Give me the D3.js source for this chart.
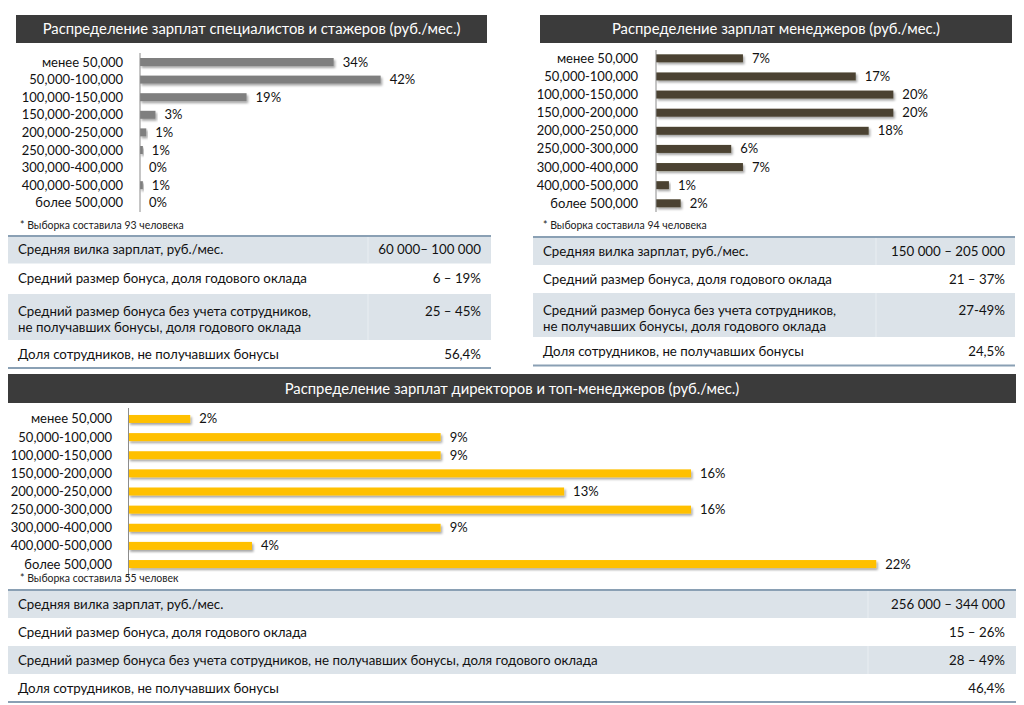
<!DOCTYPE html>
<html>
<head>
<meta charset="utf-8">
<script src="https://cdn.jsdelivr.net/npm/d3@7"></script>
<style>
  body { margin: 0; background: #fff; }
  svg { display: block; font-family: Lato, "Open Sans", sans-serif; }
</style>
</head>
<body>
<script>
      var w = 1024;
      var h = 705;

      var categories = ["менее 50,000", "50,000-100,000", "100,000-150,000", "150,000-200,000",
                        "200,000-250,000", "250,000-300,000", "300,000-400,000", "400,000-500,000", "более 500,000"];

      // доли, %
      var specValues = [33.8, 42.0, 18.6, 2.7, 1.1, 0.5, 0, 0.5, 0];
      var mgrValues = [7.4, 17.0, 20.2, 20.2, 18.1, 6.4, 7.4, 1.1, 2.1];
      var dirValues = [1.8, 9.1, 9.1, 16.4, 12.7, 16.4, 9.1, 3.6, 21.8];

      var specTitle = "Распределение зарплат специалистов и стажеров (руб./мес.)";
      var mgrTitle = "Распределение зарплат менеджеров (руб./мес.)";
      var dirTitle = "Распределение зарплат директоров и топ-менеджеров (руб./мес.)";

      var specNote = "* Выборка составила 93 человека";
      var mgrNote = "* Выборка составила 94 человека";
      var dirNote = "* Выборка составила 55 человек";

      var specRows = [["Средняя вилка зарплат, руб./мес."],
                      ["Средний размер бонуса, доля годового оклада"],
                      ["Средний размер бонуса без учета сотрудников,", "не получавших бонусы, доля годового оклада"],
                      ["Доля сотрудников, не получавших бонусы"]];
      var specRowValues = ["60 000– 100 000", "6 – 19%", "25 – 45%", "56,4%"];

      var mgrRows = specRows;
      var mgrRowValues = ["150 000 – 205 000", "21 – 37%", "27-49%", "24,5%"];

      var dirRows = [["Средняя вилка зарплат,  руб./мес."],
                     ["Средний размер бонуса, доля годового оклада"],
                     ["Средний размер бонуса без учета сотрудников, не получавших бонусы, доля годового оклада"],
                     ["Доля сотрудников, не получавших бонусы"]];
      var dirRowValues = ["256 000  – 344 000", "15 – 26%", "28 – 49%", "46,4%"];

      var svg = d3.select("body")
                  .append("svg")
                  .attr("width", w)
                  .attr("height", h);

      var defs = svg.append("defs");
      defs.append("filter")
          .attr("id", "shadow")
          .attr("x", "-5%").attr("y", "-50%")
          .attr("width", "120%").attr("height", "250%")
          .append("feDropShadow")
          .attr("dx", 1.5)
          .attr("dy", 2)
          .attr("stdDeviation", 1.2)
          .attr("flood-color", "#000")
          .attr("flood-opacity", 0.35);

      function titleBar(x0, x1, y0, y1, text) {
        svg.append("rect")
           .attr("x", x0).attr("y", y0)
           .attr("width", x1 - x0).attr("height", y1 - y0)
           .attr("fill", "#3b3b3b");
        svg.append("text")
           .text(text)
           .attr("x", (x0 + x1) / 2)
           .attr("y", (y0 + y1) / 2 + 5)
           .attr("text-anchor", "middle")
           .attr("font-size", "14.8px")
           .attr("fill", "white");
      }

      function barChart(values, color, xr, xmax, yr, axisY, labelX, note, notePos) {
        var x = d3.scaleLinear().domain([0, xmax]).range(xr);
        var y = d3.scaleBand().domain(categories).range(yr);
        var g = svg.append("g");

        g.selectAll("rect")
         .data(values)
         .enter()
         .append("rect")
         .attr("x", x(0))
         .attr("y", function(d, i){ return y(categories[i]) + y.bandwidth() / 2 - 4; })
         .attr("width", function(d){ return x(d) - x(0); })
         .attr("height", 8)
         .attr("fill", color)
         .attr("filter", "url(#shadow)");

        g.selectAll("text.val")
         .data(values)
         .enter()
         .append("text")
         .attr("class", "val")
         .text(function(d){ return Math.round(d) + "%"; })
         .attr("x", function(d){ return x(d) + 9; })
         .attr("y", function(d, i){ return y(categories[i]) + y.bandwidth() / 2 + 4.5; })
         .attr("font-size", "13px")
         .attr("fill", "#111");

        g.selectAll("text.cat")
         .data(categories)
         .enter()
         .append("text")
         .attr("class", "cat")
         .text(function(d){ return d; })
         .attr("x", labelX)
         .attr("y", function(d){ return y(d) + y.bandwidth() / 2 + 4.5; })
         .attr("text-anchor", "end")
         .attr("font-size", "13px")
         .attr("fill", "#111");

        g.append("line")
         .attr("x1", x(0)).attr("x2", x(0))
         .attr("y1", axisY[0]).attr("y2", axisY[1])
         .attr("stroke", "#8c8c8c")
         .attr("stroke-width", 1);

        g.append("text")
         .text(note)
         .attr("x", notePos[0])
         .attr("y", notePos[1])
         .attr("font-size", "10.5px")
         .attr("fill", "#222");
      }

      function table(x0, x1, split, rowsY, rows, vals, textX, valX) {
        var g = svg.append("g");
        for (var i = 0; i < rows.length; i++) {
          var top = rowsY[i], bottom = rowsY[i + 1];
          if (i % 2 === 0) {
            g.append("rect")
             .attr("x", x0).attr("y", top)
             .attr("width", x1 - x0).attr("height", bottom - top)
             .attr("fill", "#dce3e9");
            g.append("line")
             .attr("x1", split).attr("x2", split)
             .attr("y1", top).attr("y2", bottom)
             .attr("stroke", "#e9eef2")
             .attr("stroke-width", 1);
          }
          var firstY = rows[i].length > 1 ? top + 22 : (top + bottom) / 2 + 4.5;
          for (var j = 0; j < rows[i].length; j++) {
            g.append("text")
             .text(rows[i][j])
             .attr("x", textX)
             .attr("y", firstY + j * 16)
             .attr("font-size", "13.3px")
             .attr("fill", "#111");
          }
          g.append("text")
           .text(vals[i])
           .attr("x", valX)
           .attr("y", firstY)
           .attr("text-anchor", "end")
           .attr("font-size", "13.3px")
           .attr("fill", "#111");
        }
        g.append("line")
         .attr("x1", x0).attr("x2", x1)
         .attr("y1", rowsY[0]).attr("y2", rowsY[0])
         .attr("stroke", "#8aa0b4").attr("stroke-width", 2);
        g.append("line")
         .attr("x1", x0).attr("x2", x1)
         .attr("y1", rowsY[rows.length]).attr("y2", rowsY[rows.length])
         .attr("stroke", "#8aa0b4").attr("stroke-width", 2);
      }

      // специалисты
      titleBar(16, 487, 15, 43, specTitle);
      barChart(specValues, "#7f7f7f", [140, 426.5], 50, [53.2, 211.6], [53, 212], 123, specNote, [20, 229]);
      table(8, 491, 368, [236, 263.5, 294, 340, 368], specRows, specRowValues, 18, 481);

      // менеджеры
      titleBar(540, 1012, 15, 43, mgrTitle);
      barChart(mgrValues, "#4b4330", [656, 949.75], 25, [49.25, 212.35], [50, 212], 638, mgrNote, [543, 229]);
      table(533, 1015, 876, [237, 265, 293, 337, 365.5], mgrRows, mgrRowValues, 543, 1005);

      // директора
      titleBar(8, 1016, 374, 403, dirTitle);
      barChart(dirValues, "#ffc000", [128.5, 986], 25, [409.9, 573.1], [408, 578], 112, dirNote, [20, 582]);
      table(8, 1016, 868, [590, 618, 646, 674, 702], dirRows, dirRowValues, 18, 1005);
</script>
</body>
</html>
